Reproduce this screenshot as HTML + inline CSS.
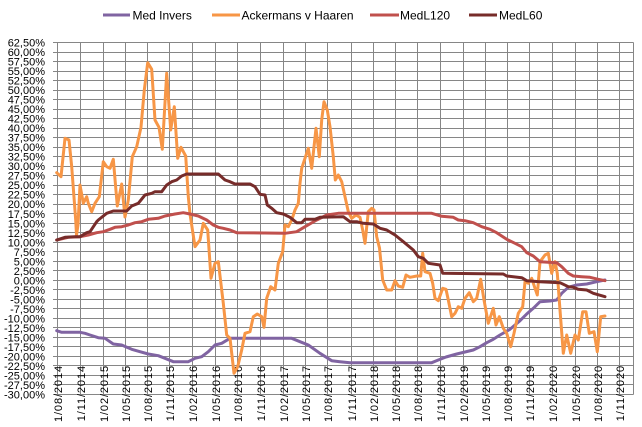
<!DOCTYPE html>
<html>
<head>
<meta charset="utf-8">
<style>
html,body{margin:0;padding:0;background:#fff;}
svg{display:block;}
text{font-family:"Liberation Sans",Arial,sans-serif;fill:#000;}
</style>
</head>
<body>
<svg width="642" height="427" viewBox="0 0 642 427" xmlns="http://www.w3.org/2000/svg">
<rect x="0" y="0" width="642" height="427" fill="#fff"/>
<g stroke="#868686" stroke-width="1" shape-rendering="crispEdges">
<line x1="53" x2="633.5" y1="42.5" y2="42.5"/>
<line x1="53" x2="633.5" y1="52.5" y2="52.5"/>
<line x1="53" x2="633.5" y1="61.5" y2="61.5"/>
<line x1="53" x2="633.5" y1="71.5" y2="71.5"/>
<line x1="53" x2="633.5" y1="80.5" y2="80.5"/>
<line x1="53" x2="633.5" y1="90.5" y2="90.5"/>
<line x1="53" x2="633.5" y1="99.5" y2="99.5"/>
<line x1="53" x2="633.5" y1="109.5" y2="109.5"/>
<line x1="53" x2="633.5" y1="118.5" y2="118.5"/>
<line x1="53" x2="633.5" y1="128.5" y2="128.5"/>
<line x1="53" x2="633.5" y1="137.5" y2="137.5"/>
<line x1="53" x2="633.5" y1="147.5" y2="147.5"/>
<line x1="53" x2="633.5" y1="156.5" y2="156.5"/>
<line x1="53" x2="633.5" y1="166.5" y2="166.5"/>
<line x1="53" x2="633.5" y1="175.5" y2="175.5"/>
<line x1="53" x2="633.5" y1="185.5" y2="185.5"/>
<line x1="53" x2="633.5" y1="194.5" y2="194.5"/>
<line x1="53" x2="633.5" y1="204.5" y2="204.5"/>
<line x1="53" x2="633.5" y1="213.5" y2="213.5"/>
<line x1="53" x2="633.5" y1="223.5" y2="223.5"/>
<line x1="53" x2="633.5" y1="232.5" y2="232.5"/>
<line x1="53" x2="633.5" y1="242.5" y2="242.5"/>
<line x1="53" x2="633.5" y1="251.5" y2="251.5"/>
<line x1="53" x2="633.5" y1="261.5" y2="261.5"/>
<line x1="53" x2="633.5" y1="270.5" y2="270.5"/>
<line x1="53" x2="633.5" y1="280.5" y2="280.5"/>
<line x1="53" x2="633.5" y1="289.5" y2="289.5"/>
<line x1="53" x2="633.5" y1="299.5" y2="299.5"/>
<line x1="53" x2="633.5" y1="308.5" y2="308.5"/>
<line x1="53" x2="633.5" y1="318.5" y2="318.5"/>
<line x1="53" x2="633.5" y1="327.5" y2="327.5"/>
<line x1="53" x2="633.5" y1="337.5" y2="337.5"/>
<line x1="53" x2="633.5" y1="346.5" y2="346.5"/>
<line x1="53" x2="633.5" y1="356.5" y2="356.5"/>
<line x1="53" x2="633.5" y1="365.5" y2="365.5"/>
<line x1="53" x2="633.5" y1="375.5" y2="375.5"/>
<line x1="53" x2="633.5" y1="384.5" y2="384.5"/>
<line x1="53" x2="633.5" y1="394.5" y2="394.5"/>
<line y1="42.5" y2="394.5" x1="57.5" x2="57.5"/>
<line y1="42.5" y2="394.5" x1="80.5" x2="80.5"/>
<line y1="42.5" y2="394.5" x1="103.5" x2="103.5"/>
<line y1="42.5" y2="394.5" x1="125.5" x2="125.5"/>
<line y1="42.5" y2="394.5" x1="147.5" x2="147.5"/>
<line y1="42.5" y2="394.5" x1="169.5" x2="169.5"/>
<line y1="42.5" y2="394.5" x1="192.5" x2="192.5"/>
<line y1="42.5" y2="394.5" x1="215.5" x2="215.5"/>
<line y1="42.5" y2="394.5" x1="237.5" x2="237.5"/>
<line y1="42.5" y2="394.5" x1="260.5" x2="260.5"/>
<line y1="42.5" y2="394.5" x1="283.5" x2="283.5"/>
<line y1="42.5" y2="394.5" x1="305.5" x2="305.5"/>
<line y1="42.5" y2="394.5" x1="327.5" x2="327.5"/>
<line y1="42.5" y2="394.5" x1="351.5" x2="351.5"/>
<line y1="42.5" y2="394.5" x1="373.5" x2="373.5"/>
<line y1="42.5" y2="394.5" x1="395.5" x2="395.5"/>
<line y1="42.5" y2="394.5" x1="417.5" x2="417.5"/>
<line y1="42.5" y2="394.5" x1="440.5" x2="440.5"/>
<line y1="42.5" y2="394.5" x1="463.5" x2="463.5"/>
<line y1="42.5" y2="394.5" x1="485.5" x2="485.5"/>
<line y1="42.5" y2="394.5" x1="507.5" x2="507.5"/>
<line y1="42.5" y2="394.5" x1="529.5" x2="529.5"/>
<line y1="42.5" y2="394.5" x1="552.5" x2="552.5"/>
<line y1="42.5" y2="394.5" x1="575.5" x2="575.5"/>
<line y1="42.5" y2="394.5" x1="597.5" x2="597.5"/>
<line y1="42.5" y2="394.5" x1="619.5" x2="619.5"/>
<line y1="42.5" y2="394.5" x1="633.5" x2="633.5"/>
</g>

<g font-size="11" text-anchor="end">
<text x="45" y="46.7">62,50%</text>
<text x="45" y="56.2">60,00%</text>
<text x="45" y="65.7">57,50%</text>
<text x="45" y="75.2">55,00%</text>
<text x="45" y="84.7">52,50%</text>
<text x="45" y="94.2">50,00%</text>
<text x="45" y="103.7">47,50%</text>
<text x="45" y="113.2">45,00%</text>
<text x="45" y="122.7">42,50%</text>
<text x="45" y="132.2">40,00%</text>
<text x="45" y="141.7">37,50%</text>
<text x="45" y="151.2">35,00%</text>
<text x="45" y="160.7">32,50%</text>
<text x="45" y="170.2">30,00%</text>
<text x="45" y="179.7">27,50%</text>
<text x="45" y="189.2">25,00%</text>
<text x="45" y="198.7">22,50%</text>
<text x="45" y="208.2">20,00%</text>
<text x="45" y="217.8">17,50%</text>
<text x="45" y="227.3">15,00%</text>
<text x="45" y="236.8">12,50%</text>
<text x="45" y="246.3">10,00%</text>
<text x="45" y="255.8">7,50%</text>
<text x="45" y="265.3">5,00%</text>
<text x="45" y="274.8">2,50%</text>
<text x="45" y="284.3">0,00%</text>
<text x="45" y="293.8">-2,50%</text>
<text x="45" y="303.3">-5,00%</text>
<text x="45" y="312.8">-7,50%</text>
<text x="45" y="322.3">-10,00%</text>
<text x="45" y="331.8">-12,50%</text>
<text x="45" y="341.3">-15,00%</text>
<text x="45" y="350.8">-17,50%</text>
<text x="45" y="360.3">-20,00%</text>
<text x="45" y="369.8">-22,50%</text>
<text x="45" y="379.3">-25,00%</text>
<text x="45" y="388.8">-27,50%</text>
<text x="45" y="398.3">-30,00%</text>
</g>

<g font-size="11" text-anchor="end" letter-spacing="0.9">
<text transform="translate(62,365) rotate(-90)">1/08/2014</text>
<text transform="translate(85,365) rotate(-90)">1/11/2014</text>
<text transform="translate(108,365) rotate(-90)">1/02/2015</text>
<text transform="translate(130,365) rotate(-90)">1/05/2015</text>
<text transform="translate(152,365) rotate(-90)">1/08/2015</text>
<text transform="translate(174,365) rotate(-90)">1/11/2015</text>
<text transform="translate(197,365) rotate(-90)">1/02/2016</text>
<text transform="translate(220,365) rotate(-90)">1/05/2016</text>
<text transform="translate(242,365) rotate(-90)">1/08/2016</text>
<text transform="translate(265,365) rotate(-90)">1/11/2016</text>
<text transform="translate(288,365) rotate(-90)">1/02/2017</text>
<text transform="translate(310,365) rotate(-90)">1/05/2017</text>
<text transform="translate(332,365) rotate(-90)">1/08/2017</text>
<text transform="translate(356,365) rotate(-90)">1/11/2017</text>
<text transform="translate(378,365) rotate(-90)">1/02/2018</text>
<text transform="translate(400,365) rotate(-90)">1/05/2018</text>
<text transform="translate(422,365) rotate(-90)">1/08/2018</text>
<text transform="translate(445,365) rotate(-90)">1/11/2018</text>
<text transform="translate(468,365) rotate(-90)">1/02/2019</text>
<text transform="translate(490,365) rotate(-90)">1/05/2019</text>
<text transform="translate(512,365) rotate(-90)">1/08/2019</text>
<text transform="translate(534,365) rotate(-90)">1/11/2019</text>
<text transform="translate(557,365) rotate(-90)">1/02/2020</text>
<text transform="translate(580,365) rotate(-90)">1/05/2020</text>
<text transform="translate(602,365) rotate(-90)">1/08/2020</text>
<text transform="translate(624,365) rotate(-90)">1/11/2020</text>
</g>

<g fill="none" stroke-width="3" stroke-linejoin="round" stroke-linecap="round">
<polyline stroke="#8064A2" points="56.7,330.7 61.7,332.3 80,332.3 85,333.3 90,335 98.3,337.7 105,338.3 113.3,344 121.7,345 131.7,349.3 140,351.7 148.3,354 158.3,355.7 165,358.3 173.3,361.7 188.3,361.7 195,358.3 201.7,356.7 208.3,351.7 215,345 221.7,343.3 230,338.3 291.7,338.3 300,341.7 308.3,345 320,353.3 331.7,360.7 340,361.7 350,362.7 431.7,362.7 438.3,360 446,357 456.7,354 473.3,350 480,346.7 486.7,342.7 493.3,339.3 500,335 510,329.3 520,320.7 526.7,314 533.3,308.3 540,301.7 550,301 556.7,300 561.7,293.3 568.3,287.3 576.7,285 586.7,284 596.7,281.7 605,280"/>
<polyline stroke="#F79646" points="56.7,172.7 61,176.7 65,138.3 69,140 71.7,166.7 75.7,220 76.5,235 78,225 80,185 83.3,203.3 86.7,196.7 88.3,203.3 91.7,211.7 95,203.3 99.3,196.7 103.3,161.7 106.7,166.7 110,168.3 113.3,159.3 117.3,206 121.7,184 125,217 128.3,200 132.3,156.7 136.7,146.7 141,127.3 144.3,90 147.7,62.7 151.7,69.3 155,120 159,127.3 162.3,149.3 166.7,73.3 170.7,130 174.3,106.7 177.7,158.3 181,147.3 185.7,156 188.3,196.7 190,214 195,246.7 200,240 203.3,223.3 207.7,230 211,278.3 215,263.3 218.3,261.7 223.3,303.3 226.7,335 230,338.3 234,373.3 237.7,366.7 241.7,350 245,333.3 250,331.7 253.3,316.7 257.3,314 261.7,316.7 264,327.3 266.7,298.3 270.7,286.7 275,290 278.3,263.3 282.7,251.7 285,225 288.3,226.7 291.7,220 295,210 298.3,203.3 300,183.3 301.7,168.3 305,158.3 308.3,148.3 311.7,168.3 316,128.3 319.3,156.7 321.7,120 324,101.7 327.3,110 330,126.7 333.3,156.7 335.3,180 338.3,175 341.7,181.7 345,196.7 348.3,211.7 351.7,218.3 356,215 360,217.3 362.7,230 365,243.3 368.3,211.7 371.7,208.3 374,210 376.7,236.7 379.5,248 382.7,280 386.7,290 391.7,290 395,280.7 398.3,286 402.7,287.3 406,275 410,277.3 416.7,276 420.7,276 422.7,253.3 425,271.7 430,273.3 432.7,283.3 435,298.3 438.3,300.7 442.7,288.3 446,289.3 448.3,300 451.7,316.7 455,313.3 458.3,306.7 461.7,308.3 465,298.3 469.3,292.7 473.3,301.7 476.7,298.3 480.7,279.3 484,300 488.3,323.3 493.3,308.3 496,325 499.3,316.7 503.3,328.3 506.7,333.3 510.7,346.7 514,333.3 518.3,313.3 522.7,306.7 525,281.7 528.3,283.3 531.7,278.3 535,288.3 537.3,295 540,261.7 545,255 548.3,253.3 551.7,273.3 555,261.7 557.3,273.3 560,310 563.3,353.3 566.7,335 570.7,353.3 575,335 578.3,340 582.7,311.7 586,311.7 589.3,333.3 594,331.7 597.3,351.7 600.7,316.7 605,316"/>
<polyline stroke="#C0504D" points="56.7,240 68.3,237.3 80,236.7 88.3,235 96.7,232.7 103.3,231.7 110,229.3 115,227.3 121.7,226.7 128.3,225 135,222.7 141.7,221.7 148.3,219.3 158.3,218.3 165,216 175,214 183.3,212.7 190,214 198.3,216 206.7,220 213.3,225 218.3,227.3 223.3,228.3 230,230 236.7,232.7 285,233.3 296.7,231.7 305,226.7 316.7,220 326.7,215 338.3,213.3 431.7,213.3 441.7,216.3 453.3,217.3 458.3,220 465,220.7 473.3,222.7 481.7,226.7 490,229.3 496.7,232.7 506.7,239.3 515,243.3 521.7,246.7 526.7,252.7 533.3,256 540,261.7 556.7,262.7 561.7,266.7 568.3,273.3 573.3,276 581.7,276.7 590,277.3 598.3,279.3 605,280.7"/>
<polyline stroke="#772C2A" points="56.7,240 65,237.3 75,236.7 80,236.7 86.7,232.7 90,231.7 96.7,221.7 98.3,220 106.7,213.3 113.3,211 126.7,211 131.7,206 138.3,203.3 145,195 151.7,193.3 155,191.7 161.7,191.7 166.7,185 171.7,181.7 176.7,180 181.7,176 186.7,174 218.3,174 225,180 230,181.7 235,184 250,184 255,186.7 260,194.3 265,195 267.3,205 271.7,208.3 276.7,212.7 283.3,214 290,217.3 296.7,222.7 301.7,222.7 305,219.3 315,219.3 320,217.3 343.3,216.7 350,221.7 356.7,221.7 363.3,223.3 373.3,224 380,228.3 386.7,230 395,235 403.3,241.7 413.3,250 418.3,256.7 423.3,258.3 428.3,263.3 440,265 442.7,273.3 503.3,274 506.7,276 521.7,277.7 526.7,280.7 540,281.7 560,282.7 568.3,286.7 573.3,287.3 578.3,289.3 586.7,290 593.3,293.3 605,296.7"/>
</g>

<g stroke-width="3">
<line x1="103" x2="130" y1="15" y2="15" stroke="#8064A2"/>
<line x1="212" x2="240" y1="15" y2="15" stroke="#F79646"/>
<line x1="370" x2="399" y1="15" y2="15" stroke="#C0504D"/>
<line x1="469" x2="497" y1="15" y2="15" stroke="#772C2A"/>
</g>
<g font-size="12">
<text x="132.5" y="19.5">Med Invers</text>
<text x="241.5" y="19.5">Ackermans v Haaren</text>
<text x="400" y="19.5">MedL120</text>
<text x="499" y="19.5">MedL60</text>
</g>
</svg>
</body>
</html>
